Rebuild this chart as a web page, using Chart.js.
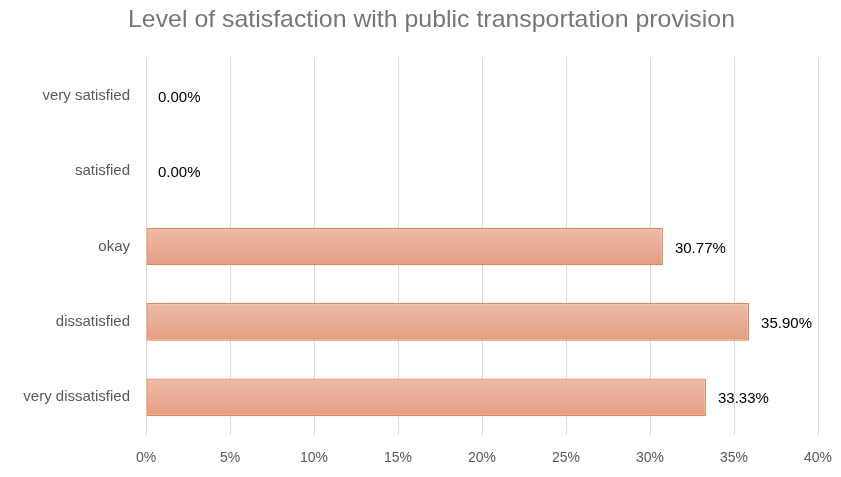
<!DOCTYPE html>
<html>
<head>
<meta charset="utf-8">
<script src="https://cdn.jsdelivr.net/npm/chart.js@4/dist/chart.umd.min.js"></script>
<style>
  html, body { margin: 0; padding: 0; background: #ffffff; }
  #wrap { width: 841px; height: 477px; position: relative; }
</style>
</head>
<body>
<div id="wrap"><canvas id="c" width="841" height="477"></canvas></div>
<script>
// Survey answers, top to bottom
const categories = ['very satisfied', 'satisfied', 'okay', 'dissatisfied', 'very dissatisfied'];
// Share of respondents, percent
const shares = [0.00, 0.00, 30.77, 35.90, 33.33];
// Axis range and step, percent
const axisMax = 40;
const axisStep = 5;

const titleText = 'Level of satisfaction with public transportation provision';
const labelFont = '"Liberation Sans", "DejaVu Sans", sans-serif';
const BAR_FRACTION = 0.5;

// Vertical gradient for each bar, placed from the category scale
function barFill(ctx) {
  const chart = ctx.chart;
  const y = chart.scales && chart.scales.y;
  if (!chart.chartArea || !y || ctx.dataIndex === undefined) return '#E9AD95';
  const band = (y.bottom - y.top) / categories.length;
  const yc = y.getPixelForValue(ctx.dataIndex);
  const half = band * BAR_FRACTION / 2;
  const g = chart.ctx.createLinearGradient(0, yc - half, 0, yc + half);
  g.addColorStop(0, '#EEBCA7');
  g.addColorStop(0.5, '#E8AD96');
  g.addColorStop(1, '#E49C7F');
  return g;
}

// Title drawn centred above the plot, slightly widened
const titlePlugin = {
  id: 'topTitle',
  afterDraw(chart) {
    const c = chart.ctx;
    c.save();
    c.font = '24px "Liberation Sans", sans-serif';
    c.fillStyle = '#767676';
    c.textBaseline = 'alphabetic';
    const w = c.measureText(titleText).width;
    const target = 607;
    const sx = target / w;
    c.translate(431.5 - target / 2, 27);
    c.scale(sx, 1);
    c.fillText(titleText, 0, 0);
    c.restore();
  }
};

// Value labels just past the end of each bar
const valueLabels = {
  id: 'valueLabels',
  afterDatasetsDraw(chart) {
    const c = chart.ctx;
    const meta = chart.getDatasetMeta(0);
    c.save();
    c.font = '15px ' + labelFont;
    c.fillStyle = '#000000';
    c.textAlign = 'left';
    c.textBaseline = 'middle';
    meta.data.forEach((bar, i) => {
      c.fillText(shares[i].toFixed(2) + '%', bar.x + 12, bar.y + 2);
    });
    c.restore();
  }
};

new Chart(document.getElementById('c'), {
  type: 'bar',
  data: {
    labels: categories,
    datasets: [{
      data: shares,
      backgroundColor: barFill,
      borderColor: '#DD8858',
      borderWidth: 1.3,
      borderSkipped: false,
      barPercentage: BAR_FRACTION,
      categoryPercentage: 1.0
    }]
  },
  options: {
    indexAxis: 'y',
    responsive: false,
    animation: false,
    devicePixelRatio: 1,
    layout: { padding: { top: 58, right: 23, bottom: 0, left: 0 } },
    plugins: {
      legend: { display: false },
      title: { display: false },
      tooltip: { enabled: false }
    },
    scales: {
      x: {
        min: 0,
        max: axisMax,
        ticks: {
          stepSize: axisStep,
          padding: 15,
          color: '#595959',
          font: { family: labelFont, size: 14 },
          callback: v => v + '%'
        },
        grid: { color: '#D9D9D9', lineWidth: 1, drawTicks: false },
        border: { display: false },
        afterFit(scale) {
          scale.height = 42;
          scale.paddingLeft = 0;
          scale.paddingRight = 0;
        }
      },
      y: {
        ticks: {
          padding: 16,
          color: '#595959',
          font: { family: labelFont, size: 15 }
        },
        grid: { display: false, drawTicks: false },
        border: { display: false },
        afterFit(scale) { scale.width = 146; }
      }
    }
  },
  plugins: [titlePlugin, valueLabels]
});
</script>
</body>
</html>
